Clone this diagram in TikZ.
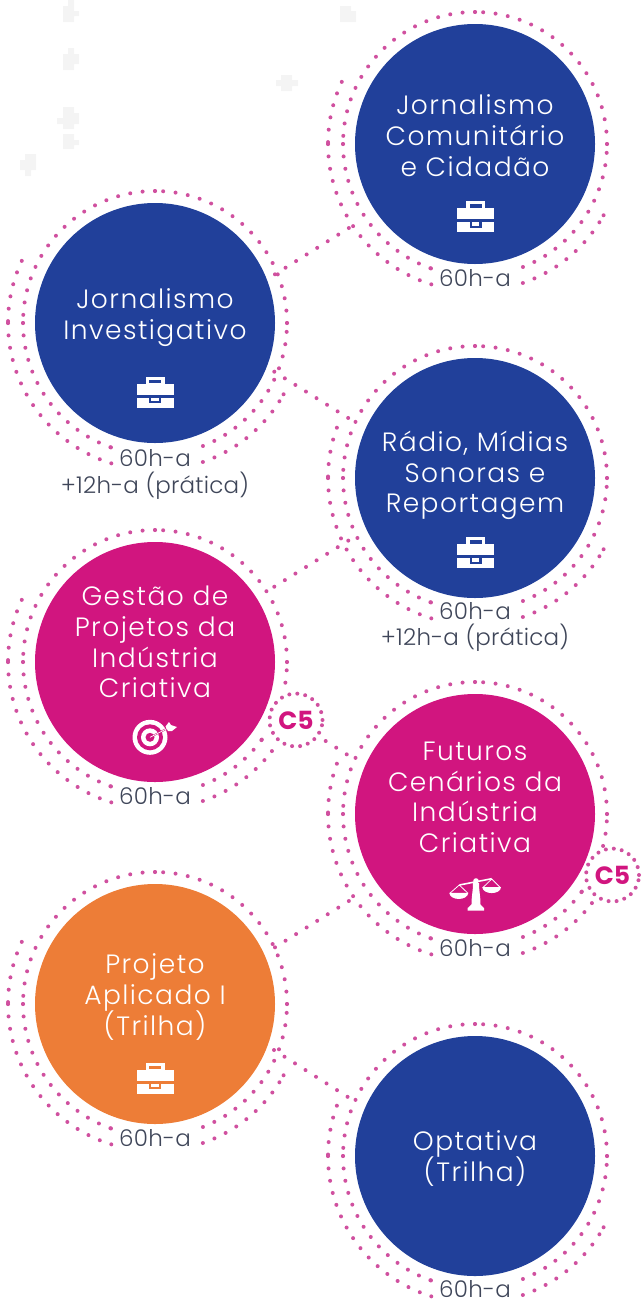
\documentclass[tikz,border=0pt]{standalone}
\usepackage{fontspec}
\usetikzlibrary{calc}
\setmainfont{Poppins}[UprightFont={* Light},LetterSpace=5.5]
\newfontfamily\hoursfont{Poppins}[UprightFont={* Light},LetterSpace=1]
\newfontfamily\badgefont{Poppins}[UprightFont={* Bold}]
\definecolor{dotc}{HTML}{D0509F}
\definecolor{blueC}{HTML}{21409A}
\definecolor{magC}{HTML}{D1157F}
\definecolor{oraC}{HTML}{ED7D37}
\definecolor{txtC}{HTML}{3F4659}
\definecolor{faint}{HTML}{F4F4F4}
\tikzset{
  dotline/.style={draw=dotc,line width=4pt,line cap=round,dash pattern=on 0pt off 12.45pt},
  disc/.style={circle,minimum size=240pt,inner sep=0pt,draw=none},
  ttl/.style={anchor=base,text=white,inner sep=0pt,font=\fontsize{26.5}{31}\selectfont},
  hrs/.style={anchor=base,text=txtC,inner sep=0pt,font=\hoursfont\fontsize{23}{27}\selectfont},
  badge/.style={circle,minimum size=53pt,inner sep=0pt,draw=dotc,line width=4pt,line cap=round,
     dash pattern=on 0pt off 8.05pt,text=magC,font=\badgefont\fontsize{25}{25}\selectfont},
}
\newcommand{\seg}[4]{%
  \draw[dotline] ($(#1)+(#3:#2pt)$) arc[start angle=#3,end angle=#4,radius=#2pt];
  \fill[dotc] ($(#1)+(#4:#2pt)$) circle (2pt);}
% upper three-quarters of the rings, shared by all circles
\newcommand{\ringcore}[3]{%
  \seg{#1}{147}{#2}{180}\seg{#1}{147}{180}{252.7}\seg{#1}{147}{-71}{#3}%
  \seg{#1}{132}{0}{90}\seg{#1}{132}{90}{180}\seg{#1}{132}{180}{250.5}}
\newcommand{\ringplain}[3]{\ringcore{#1}{#2}{#3}\seg{#1}{132}{-68.7}{0}}
\newcommand{\ringgap}[3]{\ringcore{#1}{#2}{-37.3}\seg{#1}{132}{-68.7}{-36}\seg{#1}{132}{#3}{0}}
\newcommand{\briefcase}[3]{%
  \begin{scope}[shift={(#1,#2)}]
    \fill[white] (-9.5,15.5) rectangle (9.5,7);
    \fill[#3] (-6,12.2) rectangle (6,8.9);
    \fill[white] (-18.5,8.2) rectangle (18.5,-2.8);
    \fill[white] (-18.5,-5.5) rectangle (18.5,-15.5);
    \fill[#3] (-6,-2.8) rectangle (6,-11.1);
    \fill[white] (-3.7,-5.5) rectangle (3.7,-9.1);
  \end{scope}}
\begin{document}
\begin{tikzpicture}[x=1pt,y=1pt]
\useasboundingbox (0,0) rectangle (642,-1301);
% faint background marks
\fill[faint] (68,0) rectangle (74,-6) (63,-6) rectangle (74,-22) (74,-11) rectangle (79,-16);
\fill[faint] (68,-48) rectangle (74,-54) (63,-54) rectangle (74,-70) (74,-54) rectangle (79,-64);
\fill[faint] (63,-107) rectangle (74,-129) (57,-118) rectangle (63,-124) (74,-113) rectangle (79,-124);
\fill[faint] (63,-134) rectangle (74,-149) (74,-140) rectangle (79,-145);
\fill[faint] (25,-154) rectangle (36,-170) (20,-160) rectangle (25,-170) (25,-170) rectangle (31,-176);
\fill[faint] (281,-75) rectangle (292,-91) (276,-80) rectangle (281,-86) (292,-80) rectangle (298,-86);
\fill[faint] (340,-6) rectangle (351,-22) (351,-11) rectangle (356,-22);
% circles
\node[disc,fill=blueC] (c1) at (475,-144) {};
\node[disc,fill=blueC] (c2) at (155,-323) {};
\node[disc,fill=blueC] (c3) at (475,-478) {};
\node[disc,fill=magC]  (c4) at (155,-662) {};
\node[disc,fill=magC]  (c5) at (475,-814) {};
\node[disc,fill=oraC]  (c6) at (155,-1004) {};
\node[disc,fill=blueC] (c7) at (475,-1156) {};
\node[badge] (b4) at (296,-720) {C5};
\node[badge] (b5) at (612.5,-875) {C5};
% dotted rings
\ringplain{c1}{155}{-29}
\ringplain{c2}{155}{-29}
\ringplain{c3}{160}{-29}
\ringgap{c4}{155}{-9}
\ringgap{c5}{160}{-14}
\ringplain{c6}{155}{-29}
\ringplain{c7}{160}{-29}
% connectors
\coordinate (a21) at ($(c2)+(120,48.7)$);
\coordinate (q21) at ($(c1)+(-119.3,-79.7)$);
\draw[dotline] (a21) -- (q21);
\coordinate (a23) at ($(c2)+(119.3,-48.7)$);
\coordinate (q23) at ($(c3)+(-119.3,55.3)$);
\draw[dotline] (a23) -- (q23);
\coordinate (a43) at ($(c4)+(119.3,75.3)$);
\coordinate (q43) at ($(c3)+(-119.3,-58)$);
\draw[dotline] (a43) -- (q43);
\coordinate (a45) at ($(b4)+(29.7,-21)$);
\coordinate (q45) at ($(c5)+(-119.3,54)$);
\draw[dotline] (a45) -- (q45);
\coordinate (a65) at ($(c6)+(120,56.7)$);
\coordinate (q65) at ($(c5)+(-119.3,-82.7)$);
\draw[dotline] (a65) -- (q65);
\coordinate (a67) at ($(c6)+(119,-46)$);
\coordinate (q67) at ($(c7)+(-119.3,54)$);
\draw[dotline] (a67) -- (q67);
% titles
\node[ttl] (t1a) at (475,-114) {Jornalismo};
\node[ttl] (t1b) at (475,-145) {Comunitário};
\node[ttl] (t1c) at (475,-176) {e Cidadão};
\node[ttl] (t2a) at (155,-308) {Jornalismo};
\node[ttl] (t2b) at (155,-339.5) {Investigativo};
\node[ttl] (t3a) at (475,-451) {Rádio, Mídias};
\node[ttl] (t3b) at (475,-482) {Sonoras e};
\node[ttl] (t3c) at (475,-512) {Reportagem};
\node[ttl] (t4a) at (155,-605) {Gestão de};
\node[ttl] (t4b) at (155,-636) {Projetos da};
\node[ttl] (t4c) at (155,-667) {Indústria};
\node[ttl] (t4d) at (155,-697) {Criativa};
\node[ttl] (t5a) at (475,-760) {Futuros};
\node[ttl] (t5b) at (475,-791) {Cenários da};
\node[ttl] (t5c) at (475,-821) {Indústria};
\node[ttl] (t5d) at (475,-852) {Criativa};
\node[ttl] (t6a) at (155,-973) {Projeto};
\node[ttl] (t6b) at (155,-1004) {Aplicado I};
\node[ttl] (t6c) at (155,-1035.5) {(Trilha)};
\node[ttl] (t7a) at (475,-1150) {Optativa};
\node[ttl] (t7b) at (475,-1181) {(Trilha)};
% hours
\node[hrs] (h1) at (475,-286) {60h-a};
\node[hrs] (h2) at (155,-466) {60h-a};
\node[hrs] (h2b) at (155,-493) {+12h-a (prática)};
\node[hrs] (h3) at (475,-619) {60h-a};
\node[hrs] (h3b) at (475,-645.5) {+12h-a (prática)};
\node[hrs] (h4) at (155,-804) {60h-a};
\node[hrs] (h5) at (475,-956) {60h-a};
\node[hrs] (h6) at (155,-1146) {60h-a};
\node[hrs] (h7) at (475,-1297) {60h-a};
% icons
\briefcase{475.5}{-216.5}{blueC}
\briefcase{155}{-392.2}{blueC}
\briefcase{475.5}{-552.5}{blueC}
\briefcase{155}{-1078}{oraC}
% target
\fill[white] (150,-737.3) circle (17.5pt);
\fill[magC] (150,-737.3) circle (13pt);
\fill[white] (150,-737.3) circle (9pt);
\fill[magC] (150,-737.3) circle (4.5pt);
\draw[magC,line width=1.6pt] (150,-737.3) -- (170,-727);
\draw[white,line width=0.7pt] (150,-737.3) -- (170,-727);
\fill[white] (165.5,-726.5) -- (169,-722) -- (171,-725) -- (177,-727) -- (172,-731) -- (168,-731) -- cycle;
% scale
\fill[white] (459.3,-884.2) -- (491.7,-877.9) -- (491.7,-879.5) -- (459.3,-885.8) -- cycle;
\fill[white] (476,-881) circle (2.8pt);
\fill[white] (472.8,-883) .. controls (473.5,-890) and (471,-897) .. (471.7,-905) -- (480.3,-905) .. controls (481,-897) and (478.5,-890) .. (479.2,-883) -- cycle;
\fill[white] (472,-904) -- (480,-904) -- (484,-908) -- (484,-910.7) -- (467.7,-910.7) -- (467.7,-908) -- cycle;
\draw[white,line width=0.8pt] (449.8,-893.3) -- (459.3,-885) -- (468,-893.3);
\fill[white] (449.3,-892.8) -- (468.3,-892.8) .. controls (467.5,-901) and (450,-901) .. cycle;
\draw[white,line width=0.8pt] (482.8,-887.7) -- (491.7,-879) -- (500.5,-887.7);
\fill[white] (482.3,-887.2) -- (501,-887.2) .. controls (500.5,-895) and (483,-895) .. cycle;
\end{tikzpicture}
\end{document}
